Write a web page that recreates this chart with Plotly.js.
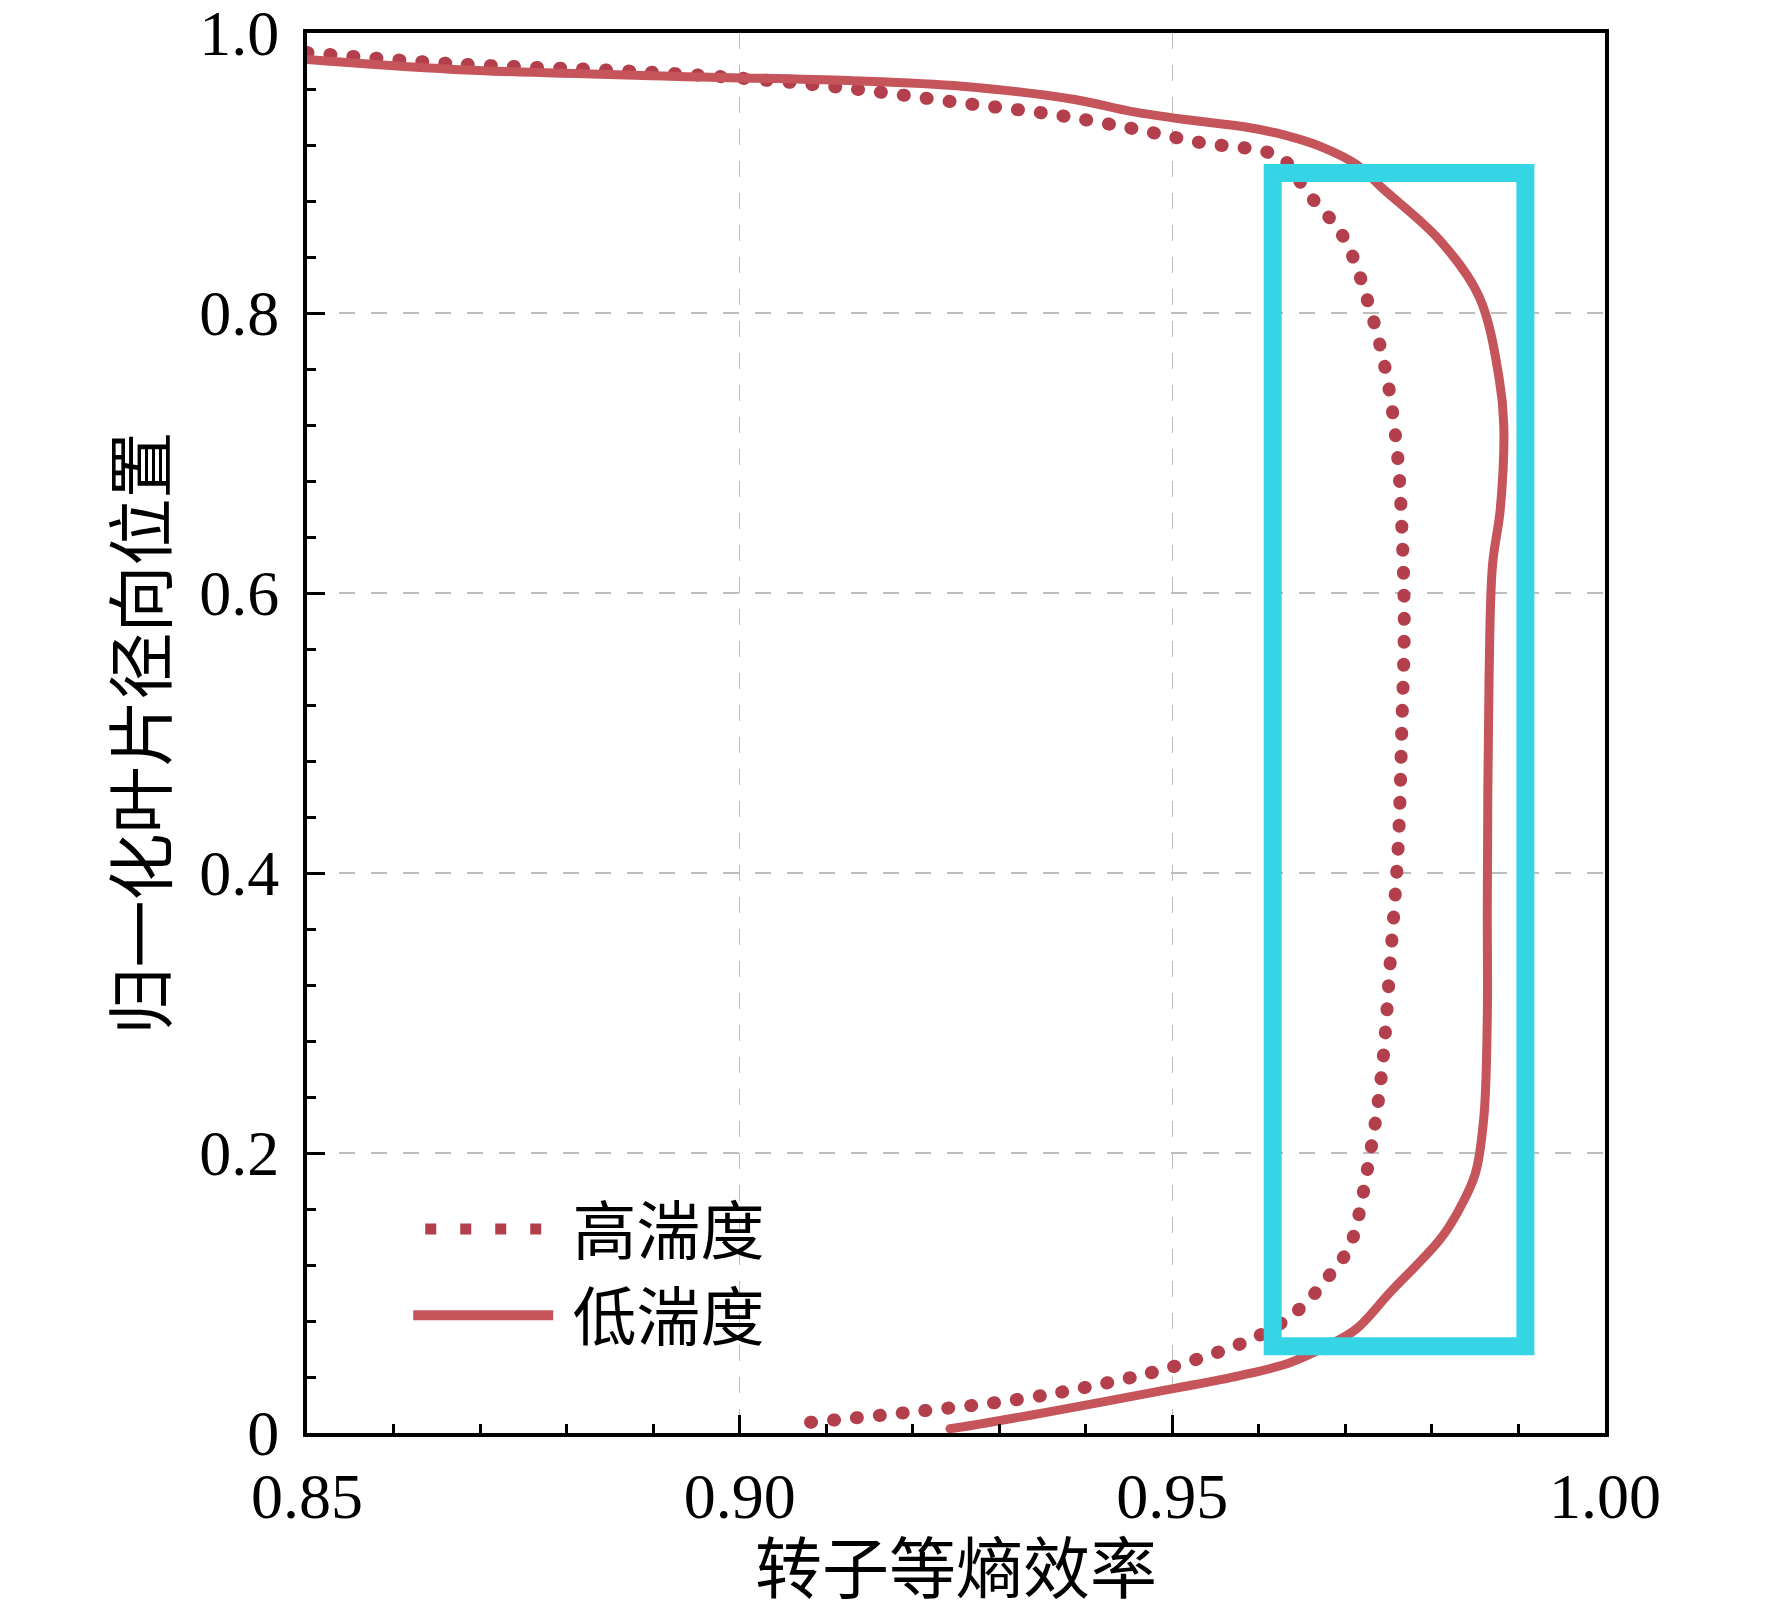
<!DOCTYPE html>
<html>
<head>
<meta charset="utf-8">
<script src="https://cdn.plot.ly/plotly-3.0.1.min.js"></script>
<style>
  body { margin: 0; background: #fff; }
  #graph { width: 1772px; height: 1612px; }
  /* round caps so the dash pattern gives round dots */
  .scatterlayer .js-line { stroke-linecap: round; }
  /* legend samples: thicker, square dots for the dotted one */
  .legend .traces .js-line { stroke-width: 10px !important; }
  .legend .traces:nth-of-type(1) .js-line { stroke-dasharray: 11px 24px !important; stroke-dashoffset: -12px; stroke-width: 11px !important; }
</style>
</head>
<body>
<div id="graph"></div>
<script>
// 高湍度 (dotted)
var highX = [0.850, 0.867, 0.8865, 0.8996, 0.9126, 0.9257, 0.936, 0.9452, 0.953, 0.9625, 0.9656, 0.9698, 0.9728, 0.9748, 0.9760, 0.9765, 0.9768, 0.9765, 0.9761, 0.9752, 0.9742, 0.9729, 0.9705, 0.9688, 0.9665, 0.9636, 0.9595, 0.9504, 0.9426, 0.9322, 0.9191, 0.9061];
var highY = [0.986, 0.978, 0.973, 0.968, 0.9605, 0.950, 0.942, 0.932, 0.922, 0.911, 0.886, 0.854, 0.804, 0.754, 0.700, 0.650, 0.580, 0.499, 0.4187, 0.338, 0.2576, 0.201, 0.133, 0.118, 0.100, 0.083, 0.068, 0.048, 0.036, 0.024, 0.0145, 0.0064];

// 低湍度 (solid)
var lowX = [0.850, 0.867, 0.893, 0.9126, 0.9257, 0.9387, 0.9452, 0.9517, 0.9583, 0.9630, 0.9675, 0.9713, 0.9743, 0.9809, 0.9855, 0.9878, 0.9883, 0.9879, 0.9870, 0.9866, 0.9864, 0.9864, 0.9860, 0.9850, 0.9830, 0.9809, 0.9751, 0.9712, 0.9675, 0.9635, 0.9578, 0.9504, 0.9426, 0.9348, 0.9283, 0.9243];
var lowY = [0.981, 0.974, 0.969, 0.966, 0.962, 0.9525, 0.944, 0.938, 0.933, 0.927, 0.918, 0.906, 0.889, 0.852, 0.811, 0.752, 0.720, 0.660, 0.620, 0.539, 0.378, 0.298, 0.2255, 0.185, 0.158, 0.138, 0.100, 0.074, 0.061, 0.050, 0.041, 0.032, 0.023, 0.014, 0.007, 0.003];

// highlighted region
var boxX = [0.9616, 0.9908];
var boxY = [0.062, 0.900];

var xTickVals = [0.85, 0.90, 0.95, 1.00];
var xTickText = ['0.85', '0.90', '0.95', '1.00'];
var yTickVals = [0, 0.2, 0.4, 0.6, 0.8, 1.0];
var yTickText = ['0', '0.2', '0.4', '0.6', '0.8', '1.0'];

var serif = 'Liberation Serif, Times New Roman, serif';
var cjk = 'Noto Sans CJK SC, sans-serif';

var traceHigh = {
    x: highX,
    y: highY,
    type: 'scatter',
    mode: 'lines',
    name: '\u00a0高湍度',
    line: { color: '#b23f4b', width: 13, dash: '1px,22px', shape: 'spline' }
};

var traceLow = {
    x: lowX,
    y: lowY,
    type: 'scatter',
    mode: 'lines',
    name: '\u00a0低湍度',
    line: { color: '#c5545b', width: 9, shape: 'spline' }
};

var data = [traceHigh, traceLow];

var layout = {
    width: 1772,
    height: 1612,
    margin: { l: 307, r: 167, t: 33, b: 179 },
    paper_bgcolor: '#fff',
    plot_bgcolor: '#fff',
    showlegend: true,
    legend: {
        x: 0.078, y: 0.18, xanchor: 'left', yanchor: 'top',
        bgcolor: 'rgba(0,0,0,0)',
        itemwidth: 140,
        font: { family: cjk, size: 64, color: '#000' }
    },
    xaxis: {
        range: [0.85, 1.0],
        tickmode: 'array',
        tickvals: xTickVals,
        ticktext: xTickText,
        ticks: 'inside',
        ticklen: 18,
        tickwidth: 3,
        tickcolor: '#000',
        ticklabelstandoff: 4,
        ticklabeloverflow: 'allow',
        tickfont: { family: serif, size: 64, color: '#000' },
        minor: { tickmode: 'linear', tick0: 0.85, dtick: 0.01, ticks: 'inside', ticklen: 9, tickwidth: 3, tickcolor: '#000', showgrid: false },
        showline: true,
        linecolor: '#000',
        linewidth: 4,
        mirror: true,
        showgrid: true,
        gridcolor: '#bdbdbd',
        gridwidth: 1.5,
        griddash: '16px,16px',
        zeroline: false,
        title: { text: '转子等熵效率', font: { family: cjk, size: 67, color: '#000' }, standoff: 16 }
    },
    yaxis: {
        range: [0, 1],
        tickmode: 'array',
        tickvals: yTickVals,
        ticktext: yTickText,
        ticks: 'inside',
        ticklen: 18,
        tickwidth: 3,
        tickcolor: '#000',
        ticklabelstandoff: 11,
        ticklabeloverflow: 'allow',
        tickfont: { family: serif, size: 64, color: '#000' },
        minor: { tickmode: 'linear', tick0: 0, dtick: 0.04, ticks: 'inside', ticklen: 9, tickwidth: 3, tickcolor: '#000', showgrid: false },
        showline: true,
        linecolor: '#000',
        linewidth: 4,
        mirror: true,
        showgrid: true,
        gridcolor: '#bdbdbd',
        gridwidth: 1.5,
        griddash: '16px,16px',
        zeroline: false,
        title: { text: '归一化叶片径向位置', font: { family: cjk, size: 67, color: '#000' }, standoff: 12 }
    },
    shapes: [{
        type: 'rect',
        xref: 'x', yref: 'y',
        x0: boxX[0], x1: boxX[1],
        y0: boxY[0], y1: boxY[1],
        line: { color: '#35d5e5', width: 18 },
        fillcolor: 'rgba(0,0,0,0)'
    }]
};

Plotly.newPlot('graph', data, layout, { displayModeBar: false, staticPlot: true });
</script>
</body>
</html>
